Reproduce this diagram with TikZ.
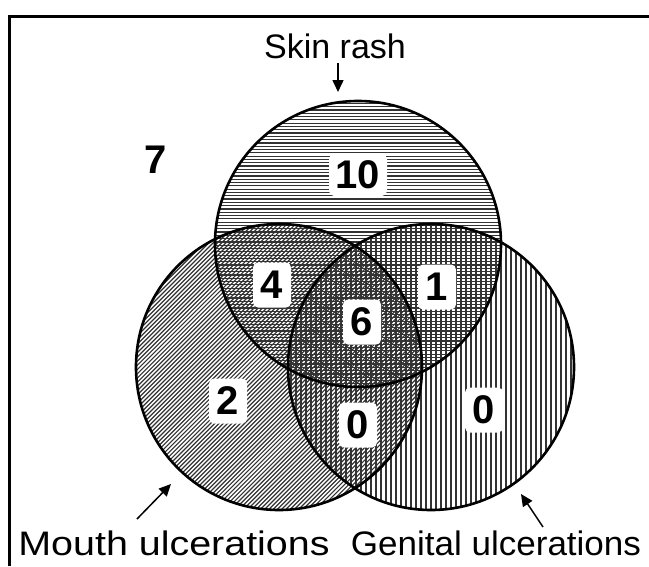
\documentclass[tikz,border=0pt]{standalone}
\usepackage{fontspec}
\setmainfont{Liberation Sans}
\usetikzlibrary{arrows.meta}
\begin{document}
\begin{tikzpicture}[x=1pt,y=-1pt,
  ring/.style={draw=black,line width=2.6pt},
  hatchh/.style={line width=1.2pt, draw=black!80},
  hatchd/.style={line width=1.2pt, draw=black!80},
  hatchv/.style={line width=1.7pt, draw=black!80},
  numbox/.style={fill=white, rounded corners=5pt, inner sep=0pt, minimum width=38pt, minimum height=45pt, font=\fontsize{40}{40}\selectfont\bfseries},
  numfree/.style={inner sep=0pt, font=\fontsize{40}{40}\selectfont\bfseries},
  lbl/.style={inner sep=0pt, font=\fontsize{34}{34}\selectfont},
  pointer/.style={line width=1.5pt, -{Triangle[length=12pt,width=11pt]}}
]
\useasboundingbox (0,0) rectangle (649,566);
\fill[white] (0,0) rectangle (649,566);
% frame
\draw[line width=3pt] (9,566) -- (9,16) -- (649,16);
% centres
\coordinate (S) at (358,244);
\coordinate (M) at (279,367);
\coordinate (G) at (431,367);
% hatching: skin rash (horizontal)
\begin{scope}
  \clip (S) circle (143pt);
  \foreach \y in {100,103.3,...,392} \draw[hatchh] (200,\y) -- (520,\y);
\end{scope}
% hatching: mouth (diagonal)
\begin{scope}
  \clip (M) circle (143pt);
  \foreach \c in {350,354.24,...,940} \draw[hatchd] ({\c-520},520) -- ({\c-210},210);
\end{scope}
% hatching: genital (vertical)
\begin{scope}
  \clip (G) circle (143pt);
  \foreach \x in {286,291,...,576} \draw[hatchv] (\x,220) -- (\x,515);
\end{scope}
% outlines
\draw[ring] (S) circle (143pt);
\draw[ring] (M) circle (143pt);
\draw[ring] (G) circle (143pt);
% numbers
\node[numfree] (n7) at (156,160) {7};
\node[numbox, minimum width=58pt, minimum height=42pt] (n10) at (358,175) {10};
\node[numbox] (n4) at (272,285) {4};
\node[numbox] (n1) at (437,287) {1};
\node[numbox] (n6) at (362,322) {6};
\node[numbox] (n2) at (228,401) {2};
\node[numbox] (n0c) at (358,425) {0};
\node[numbox] (n0r) at (484,410) {0};
% labels and pointers
\node[lbl] (skinlbl) at (335,46) {Skin rash};
\coordinate (skintail) at (338,63);
\coordinate (skintip) at (338,92);
\draw[pointer] (skintail) -- (skintip);
\node[lbl] (mouthlbl) at (174,543) {\scalebox{1.16}[1]{Mouth ulcerations}};
\coordinate (mouthtail) at (137,519);
\coordinate (mouthtip) at (171,484);
\draw[pointer] (mouthtail) -- (mouthtip);
\node[lbl] (genlbl) at (496,543) {\scalebox{1.03}[1]{Genital ulcerations}};
\coordinate (gentail) at (543,527);
\coordinate (gentip) at (521,494);
\draw[pointer] (gentail) -- (gentip);
\end{tikzpicture}
\end{document}
